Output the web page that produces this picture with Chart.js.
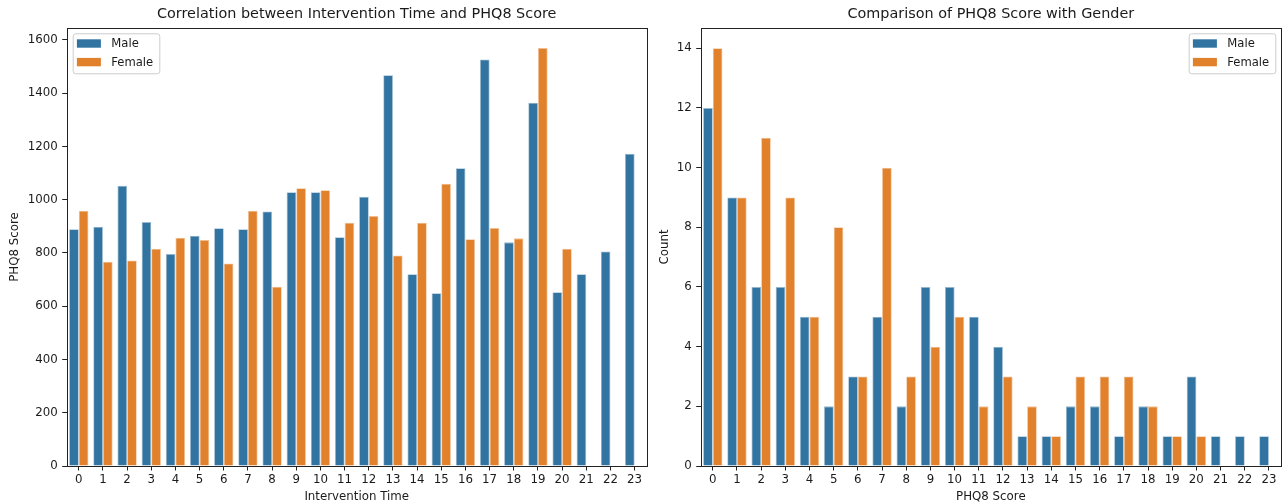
<!DOCTYPE html>
<html>
<head>
<meta charset="utf-8">
<script src="https://cdn.jsdelivr.net/npm/chart.js@4.4.0/dist/chart.umd.min.js"></script>
<style>
  html, body { margin: 0; padding: 0; background: #fff; }
  #wrap { position: relative; width: 1285px; height: 504px; overflow: hidden; }
  #leftChart { position: absolute; left: 0; top: 0; }
  #rightChart { position: absolute; left: 650px; top: 0; }
</style>
</head>
<body>
<div id="wrap">
  <canvas id="leftChart" width="650" height="504"></canvas>
  <canvas id="rightChart" width="635" height="504"></canvas>
</div>
<script>
// Categories (hour of intervention / PHQ8 score)
const hourLabels = ['0','1','2','3','4','5','6','7','8','9','10','11','12','13','14','15','16','17','18','19','20','21','22','23'];
const scoreLabels = ['0','1','2','3','4','5','6','7','8','9','10','11','12','13','14','15','16','17','18','19','20','21','22','23'];

// PHQ8 score totals by intervention time
const timeMale   = [889, 899, 1053, 916, 796, 865, 893, 889, 956, 1028, 1028, 859, 1011, 1468, 720, 649, 1118, 1527, 840, 1364, 653, 720, 806, 1173];
const timeFemale = [959, 767, 772, 816, 857, 849, 761, 959, 673, 1043, 1036, 914, 939, 791, 914, 1060, 852, 894, 855, 1570, 816, null, null, null];

// Counts of participants per PHQ8 score
const countMale   = [12, 9, 6, 6, 5, 2, 3, 5, 2, 6, 6, 5, 4, 1, 1, 2, 2, 1, 2, 1, 3, 1, 1, 1];
const countFemale = [14, 9, 11, 9, 5, 8, 3, 10, 3, 4, 5, 2, 3, 2, 1, 3, 3, 3, 2, 1, 1, null, null, null];

// Tick values
const timeTicks  = [0, 200, 400, 600, 800, 1000, 1200, 1400, 1600];
const countTicks = [0, 2, 4, 6, 8, 10, 12, 14];

const FONT = "'DejaVu Sans', sans-serif";
const TEXT = '#1a1a1a';
const BLUE = '#3274a1', BLUE_EDGE = '#9dbbd2';
const ORANGE = '#e1812c', ORANGE_EDGE = '#f1c39a';

Chart.defaults.font.family = FONT;
Chart.defaults.color = TEXT;
Chart.defaults.animation = false;

// Box spines around the plot area + matplotlib-like legend inside it
const framePlugin = {
  id: 'frame',
  afterDatasetsDraw(chart, args, opts) {
    const { ctx, chartArea: a } = chart;
    ctx.save();
    ctx.strokeStyle = '#222';
    ctx.lineWidth = 1;
    ctx.strokeRect(Math.round(a.left) + 0.5, Math.round(a.top) + 0.5,
                   Math.round(a.right) - Math.round(a.left), Math.round(a.bottom) - Math.round(a.top));

    // legend
    const w = 86.6, h = 40;
    const x0 = opts.corner === 'right' ? a.right - 5.7 - w : a.left + 6;
    const y0 = a.top + 5.3;
    ctx.fillStyle = 'rgba(255,255,255,0.8)';
    ctx.strokeStyle = '#cccccc';
    ctx.lineWidth = 1;
    ctx.beginPath();
    if (ctx.roundRect) ctx.roundRect(x0 + 0.5, y0 + 0.5, w, h, 2.5); else ctx.rect(x0 + 0.5, y0 + 0.5, w, h);
    ctx.fill();
    ctx.stroke();
    ctx.font = '11.6px ' + FONT;
    ctx.textBaseline = 'middle';
    ctx.textAlign = 'left';
    chart.data.datasets.forEach((ds, i) => {
      const cy = y0 + 10.2 + i * 18.6;
      ctx.fillStyle = ds.backgroundColor;
      ctx.fillRect(x0 + 4.2, cy - 4.2, 24, 8.4);
      ctx.fillStyle = TEXT;
      ctx.fillText(ds.label, x0 + 38.6, cy + 0.5);
    });
    ctx.restore();
  }
};

function makeChart(id, labels, male, female, opt) {
  return new Chart(document.getElementById(id), {
    type: 'bar',
    data: {
      labels,
      datasets: [
        { label: 'Male', data: male, backgroundColor: BLUE, borderColor: BLUE_EDGE, borderWidth: 0.8,
          categoryPercentage: 0.8, barPercentage: 1.0 },
        { label: 'Female', data: female, backgroundColor: ORANGE, borderColor: ORANGE_EDGE, borderWidth: 0.8,
          categoryPercentage: 0.8, barPercentage: 1.0 }
      ]
    },
    options: {
      responsive: false,
      maintainAspectRatio: false,
      layout: { padding: { left: 0, right: opt.padRight, top: 0, bottom: 0 } },
      plugins: {
        legend: { display: false },
        tooltip: { enabled: false },
        title: {
          display: true,
          text: opt.title,
          fullSize: false,
          color: TEXT,
          font: { size: 14.4, weight: 'normal', family: FONT },
          padding: { top: 5.5, bottom: 5.22 }
        },
        frame: { corner: opt.legendCorner }
      },
      scales: {
        x: {
          grid: { display: true, offset: false, drawOnChartArea: false, drawTicks: true, tickLength: 4.5, color: '#222' },
          border: { display: false },
          ticks: { font: { size: 11.8 }, color: TEXT, padding: 2, maxRotation: 0, autoSkip: false },
          title: { display: true, text: opt.xTitle, font: { size: 11.8 }, color: TEXT, padding: { top: 0, bottom: 0 } },
          afterFit(scale) { scale.height = 38; }
        },
        y: {
          min: 0,
          max: opt.yMax,
          afterBuildTicks(scale) { scale.ticks = opt.yTicks.map(v => ({ value: v })); },
          grid: { display: true, drawOnChartArea: false, drawTicks: true, tickLength: 4.5, color: '#222' },
          border: { display: false },
          ticks: { font: { size: 11.8 }, color: TEXT, padding: 4.5, callback: v => String(v) },
          title: { display: true, text: opt.yTitle, font: { size: 11.8 }, color: TEXT, padding: { top: 8, bottom: 0 } },
          afterFit(scale) { scale.width = opt.yWidth; }
        }
      }
    },
    plugins: [framePlugin]
  });
}

makeChart('leftChart', hourLabels, timeMale, timeFemale, {
  title: 'Correlation between Intervention Time and PHQ8 Score',
  xTitle: 'Intervention Time',
  yTitle: 'PHQ8 Score',
  yMax: 1645,
  yTicks: timeTicks,
  yWidth: 66.7,
  padRight: 3.3,
  legendCorner: 'left'
});

makeChart('rightChart', scoreLabels, countMale, countFemale, {
  title: 'Comparison of PHQ8 Score with Gender',
  xTitle: 'PHQ8 Score',
  yTitle: 'Count',
  yMax: 14.68,
  yTicks: countTicks,
  yWidth: 50.7,
  padRight: 4,
  legendCorner: 'right'
});
</script>
</body>
</html>
